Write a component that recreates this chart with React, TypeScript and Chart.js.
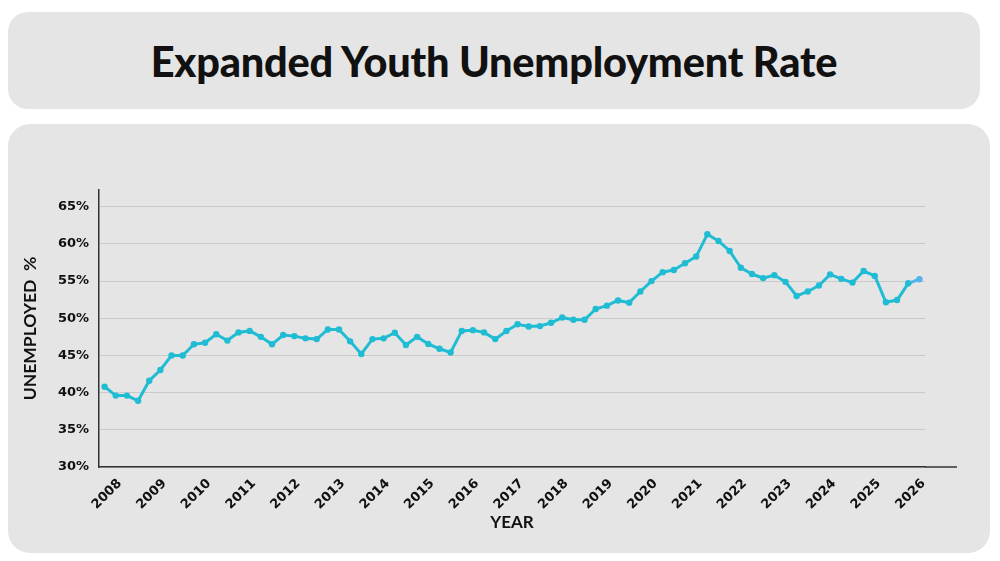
import React, { useEffect, useRef } from "react";
import { Chart, registerables } from "chart.js";

Chart.register(...registerables);

const quarters = [
  "2007 Q4",
  "2008 Q1", "2008 Q2", "2008 Q3", "2008 Q4",
  "2009 Q1", "2009 Q2", "2009 Q3", "2009 Q4",
  "2010 Q1", "2010 Q2", "2010 Q3", "2010 Q4",
  "2011 Q1", "2011 Q2", "2011 Q3", "2011 Q4",
  "2012 Q1", "2012 Q2", "2012 Q3", "2012 Q4",
  "2013 Q1", "2013 Q2", "2013 Q3", "2013 Q4",
  "2014 Q1", "2014 Q2", "2014 Q3", "2014 Q4",
  "2015 Q1", "2015 Q2", "2015 Q3", "2015 Q4",
  "2016 Q1", "2016 Q2", "2016 Q3", "2016 Q4",
  "2017 Q1", "2017 Q2", "2017 Q3", "2017 Q4",
  "2018 Q1", "2018 Q2", "2018 Q3", "2018 Q4",
  "2019 Q1", "2019 Q2", "2019 Q3", "2019 Q4",
  "2020 Q1", "2020 Q2", "2020 Q3", "2020 Q4",
  "2021 Q1", "2021 Q2", "2021 Q3", "2021 Q4",
  "2022 Q1", "2022 Q2", "2022 Q3", "2022 Q4",
  "2023 Q1", "2023 Q2", "2023 Q3", "2023 Q4",
  "2024 Q1", "2024 Q2", "2024 Q3", "2024 Q4",
  "2025 Q1", "2025 Q2", "2025 Q3", "2025 Q4",
  "2026 Q1",
];

const unemploymentRate = [
  40.8,
  39.6, 39.6, 38.9, 41.6,
  43.05, 45.0, 45.0, 46.5,
  46.7, 47.85, 47.0, 48.1,
  48.3, 47.5, 46.5, 47.75,
  47.6, 47.3, 47.2, 48.5,
  48.5, 46.9, 45.2, 47.2,
  47.3, 48.05, 46.4, 47.5,
  46.55, 45.9, 45.4, 48.3,
  48.4, 48.1, 47.2, 48.3,
  49.2, 48.9, 48.95, 49.4,
  50.1, 49.8, 49.8, 51.25,
  51.7, 52.4, 52.1, 53.6,
  55.0, 56.2, 56.5, 57.4,
  58.3, 61.3, 60.4, 59.05,
  56.8, 55.95, 55.4, 55.8,
  54.9, 53.0, 53.6, 54.4,
  55.9, 55.3, 54.8, 56.35,
  55.7, 52.15, 52.45, 54.7,
  55.25,
];

const yearTicks = [
  "2008", "2009", "2010", "2011", "2012", "2013", "2014", "2015", "2016",
  "2017", "2018", "2019", "2020", "2021", "2022", "2023", "2024", "2025", "2026",
];

const yTickValues = [30, 35, 40, 45, 50, 55, 60, 65];

const LINE = "#1fbcd3";
const LINE_LAST = "#55b2ea";
const INK = "#111111";

const axisExtension = {
  id: "axisExtension",
  afterDraw(chart: any) {
    const { ctx, chartArea } = chart;
    const y = chart.scales.y.getPixelForValue(30);
    ctx.save();
    ctx.strokeStyle = "#333333";
    ctx.lineWidth = 1.5;
    ctx.beginPath();
    ctx.moveTo(chartArea.right, y);
    ctx.lineTo(chartArea.right + 32, y);
    ctx.stroke();
    ctx.restore();
  },
};

export default function App() {
  const canvasRef = useRef<HTMLCanvasElement | null>(null);

  useEffect(() => {
    if (!canvasRef.current) return;
    const lastIdx = unemploymentRate.length - 1;
    const chart = new Chart(canvasRef.current, {
      type: "line",
      data: {
        labels: quarters,
        datasets: [
          {
            label: "Expanded youth unemployment rate",
            data: unemploymentRate,
            borderColor: LINE,
            borderWidth: 3,
            pointRadius: 3.2,
            pointBorderWidth: 0,
            pointBackgroundColor: (c: any) => (c.dataIndex === lastIdx ? LINE_LAST : LINE),
            tension: 0,
            clip: false as any,
            segment: {
              borderColor: (c: any) => (c.p1DataIndex === lastIdx ? LINE_LAST : undefined),
            },
          },
        ],
      },
      options: {
        responsive: false,
        animation: false,
        devicePixelRatio: 1,
        layout: { padding: { left: 0, top: 66, right: 65, bottom: 0 } },
        plugins: {
          legend: { display: false },
          tooltip: { enabled: false },
        },
        scales: {
          x: {
            type: "category",
            offset: true,
            grid: { display: false, drawTicks: false },
            border: { display: true, color: "#333333", width: 1.5 },
            ticks: {
              autoSkip: false,
              minRotation: 45,
              maxRotation: 45,
              padding: 9,
              labelOffset: 4,
              color: INK,
              font: { family: "'DejaVu Sans', sans-serif", weight: "bold", size: 13 },
              callback: (_v: any, idx: number) => (idx % 4 === 1 ? yearTicks[(idx - 1) / 4] : ""),
            },
            title: {
              display: true,
              text: "YEAR",
              color: INK,
              font: { family: "Lato, sans-serif", weight: "bold", size: 17 },
              padding: { top: 0, bottom: 20 },
            },
            afterFit: (scale: any) => {
              scale.height = 86;
            },
          },
          y: {
            min: 30,
            max: 67.25,
            grid: { color: "#c9c9c9", lineWidth: 1, drawTicks: false },
            border: { display: true, color: "#333333", width: 1.5 },
            afterBuildTicks: (scale: any) => {
              scale.ticks = yTickValues.map((v) => ({ value: v }));
            },
            ticks: {
              padding: 10,
              color: INK,
              font: { family: "'DejaVu Sans', sans-serif", weight: "bold", size: 13 },
              callback: (v: any) => `${v}%`,
            },
            title: {
              display: true,
              text: "UNEMPLOYED  %",
              color: INK,
              font: { family: "Lato, sans-serif", weight: "bold", size: 17.5 },
              padding: { top: 12, bottom: 0 },
            },
            afterFit: (scale: any) => {
              scale.width = 91;
            },
          },
        },
      },
      plugins: [axisExtension],
    } as any);
    return () => chart.destroy();
  }, []);

  return (
    <div style={{ position: "fixed", inset: 0, background: "#ffffff", overflow: "hidden" }}>
      <div
        style={{
          position: "absolute",
          left: 8,
          top: 12,
          width: 972,
          height: 97,
          borderRadius: 20,
          background: "#e5e5e5",
          display: "flex",
          alignItems: "center",
          justifyContent: "center",
          fontFamily: "Lato, sans-serif",
          fontWeight: 900,
          fontSize: 41.5,
          color: INK,
          letterSpacing: -0.2,
        }}
      >
        Expanded Youth Unemployment Rate
      </div>
      <div
        style={{
          position: "absolute",
          left: 8,
          top: 124,
          width: 982,
          height: 429,
          borderRadius: 22,
          background: "#e5e5e5",
        }}
      >
        <canvas ref={canvasRef} width={982} height={429} style={{ display: "block", width: 982, height: 429 }} />
      </div>
    </div>
  );
}
